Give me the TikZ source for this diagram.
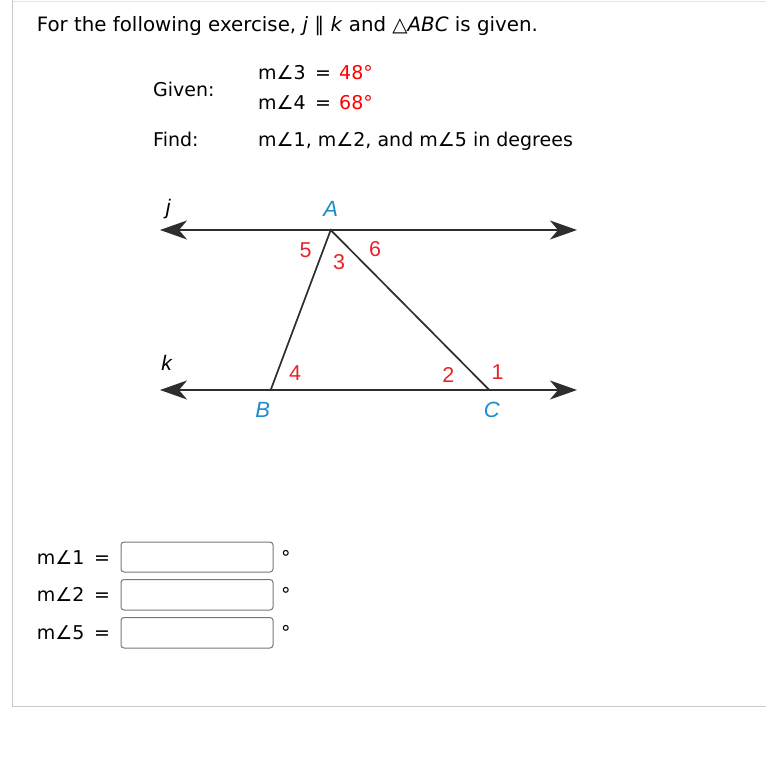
\documentclass[tikz,border=0pt]{standalone}
\usepackage{fontspec}
\setmainfont{DejaVu Sans}
\newfontfamily\figfont{Liberation Sans}
\usetikzlibrary{arrows.meta}
\definecolor{framegray}{HTML}{C8C8C8}
\definecolor{toplinegray}{HTML}{E4E4E4}
\definecolor{boxgray}{HTML}{767676}
\definecolor{valred}{HTML}{FF0000}
\definecolor{figred}{HTML}{E8232A}
\definecolor{figblue}{HTML}{1B8CCC}
\definecolor{figline}{HTML}{2E2E2E}
\tikzset{
  txt/.style={inner sep=0pt, anchor=base west, font=\fontsize{19}{23}\selectfont},
  titletxt/.style={txt, font=\fontsize{19.8}{23}\selectfont},
  figlab/.style={inner sep=0pt, anchor=center, font=\figfont\fontsize{21.5}{24}\selectfont},
  numlab/.style={figlab, text=figred},
  ptlab/.style={figlab, text=figblue, font=\figfont\itshape\fontsize{22}{25}\selectfont},
  linelab/.style={figlab, font=\figfont\itshape\fontsize{21}{24}\selectfont},
  figln/.style={draw=figline, line width=1.7pt},
  paral/.style={figln, {Stealth[length=27pt,width=19pt,inset=8pt]}-{Stealth[length=27pt,width=19pt,inset=8pt]}},
  ansbox/.style={draw=boxgray, line width=1pt, rounded corners=3pt},
}
\begin{document}
\begin{tikzpicture}[x=1pt,y=-1pt]
\useasboundingbox (0,0) rectangle (766,757);
% frame
\draw[toplinegray, line width=1pt] (12.5,2) -- (766,2);
\draw[framegray, line width=1.2pt] (12.5,0) -- (12.5,706.5) -- (766,706.5);
% title
\node[titletxt] (title) at (36.7,31.7) {For the following exercise, \textit{j} ∥ \textit{k} and △\textit{ABC} is given.};
% given / find
\node[txt] (given) at (153,96.7) {Given:};
\node[txt] (g3) at (258,80) {m∠3};
\node[txt] (g3eq) at (315,80) {=};
\node[txt, text=valred] (g3v) at (339,80) {48°};
\node[txt] (g4) at (258,110) {m∠4};
\node[txt] (g4eq) at (315,110) {=};
\node[txt, text=valred] (g4v) at (339,110) {68°};
\node[txt] (find) at (153,147) {Find:};
\node[txt] (findt) at (258,147) {m∠1, m∠2, and m∠5 in degrees};
% figure
\coordinate (A) at (330.7,230);
\coordinate (B) at (270.7,390);
\coordinate (C) at (489.3,390);
\coordinate (jl) at (160,230);
\coordinate (jr) at (577,230);
\coordinate (kl) at (160,390);
\coordinate (kr) at (577,390);
\draw[paral] (jl) -- (jr);
\draw[paral] (kl) -- (kr);
\draw[figln, line join=miter] (B) -- (A) -- (C);
\node[linelab] (jlab) at (168.3,209) {j};
\node[linelab] (klab) at (166.7,363.3) {k};
\node[ptlab] (Alab) at (330.7,209) {A};
\node[ptlab] (Blab) at (262.7,410) {B};
\node[ptlab] (Clab) at (491.7,410) {C};
\node[numlab] (n5) at (305.7,250.7) {5};
\node[numlab] (n3) at (339,261.7) {3};
\node[numlab] (n6) at (375,249) {6};
\node[numlab] (n4) at (295,373.3) {4};
\node[numlab] (n2) at (448.3,375) {2};
\node[numlab] (n1) at (497.7,371.7) {1};
% answers
\node[txt] (a1) at (36.7,564) {m∠1};
\node[txt] (a1eq) at (94,564) {=};
\draw[ansbox] (121,542) rectangle (273,572);
\node[txt] (a1d) at (281,564) {°};
\node[txt] (a2) at (36.7,601.7) {m∠2};
\node[txt] (a2eq) at (94,601.7) {=};
\draw[ansbox] (121,579.5) rectangle (273,610);
\node[txt] (a2d) at (281,601.7) {°};
\node[txt] (a5) at (36.7,639.3) {m∠5};
\node[txt] (a5eq) at (94,639.3) {=};
\draw[ansbox] (121,617.5) rectangle (273,648);
\node[txt] (a5d) at (281,639.3) {°};
\end{tikzpicture}
\end{document}
